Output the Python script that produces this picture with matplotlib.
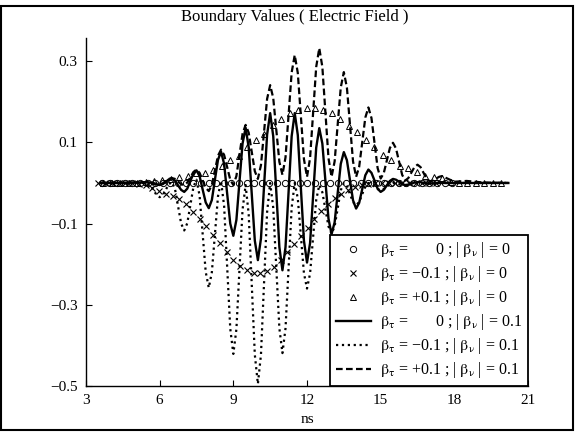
import numpy as np
import matplotlib.pyplot as plt
from matplotlib.patches import Rectangle

plt.rcParams.update({
    'font.family': 'Liberation Serif',
    'font.size': 11,
    'mathtext.fontset': 'stix',
})

# ---- marker series (sampled curves) ----
# beta_tau = 0, |beta_nu| = 0  (circles)
t_circ = 3.65 + 0.31 * np.arange(47)
y_circ = [0.0] * 47

# beta_tau = -0.1, |beta_nu| = 0  (crosses)
t_cross = 3.5 + 0.275 * np.arange(51)
y_cross = [0.0, 0.0, 0.0, 0.0, 0.0, -0.001, -0.003, -0.006, -0.013, -0.020,
           -0.026, -0.031, -0.040, -0.053, -0.072, -0.088, -0.106, -0.127, -0.148, -0.170,
           -0.190, -0.205, -0.215, -0.221, -0.222, -0.217, -0.207, -0.190, -0.169, -0.150,
           -0.130, -0.110, -0.088, -0.068, -0.053, -0.038, -0.028, -0.018, -0.011, -0.005,
           -0.002, 0.0, 0.0, 0.0, 0.0, 0.0, 0.0, 0.0, 0.0, 0.0, 0.0]

# beta_tau = +0.1, |beta_nu| = 0  (triangles)
t_tri = 3.7 + 0.345 * np.arange(48)
y_tri = [0.0, 0.0, 0.0, 0.0, 0.001, 0.002, 0.004, 0.007, 0.010, 0.014,
         0.018, 0.024, 0.025, 0.033, 0.043, 0.056, 0.066, 0.088, 0.106, 0.121,
         0.142, 0.157, 0.172, 0.179, 0.184, 0.184, 0.180, 0.172, 0.157, 0.140,
         0.125, 0.107, 0.088, 0.070, 0.057, 0.043, 0.036, 0.026, 0.018, 0.014,
         0.011, 0.003, 0.001, 0.0, 0.0, 0.0, 0.0, 0.0]

# ---- line series, |beta_nu| = 0.1 ----
t_line = np.concatenate([[3.6, 4.5], np.arange(5.5, 17.5 + 0.06, 0.125), [18.0, 18.5, 19.2, 20.2]])

y_solid = ([0.0, 0.0] +
           [0.002, 0.001, -0.0015, -0.004, -0.005, -0.003, 0.003, 0.009] +
           [0.011, 0.006, -0.006, -0.017, -0.022, -0.014, 0.005, 0.023] +
           [0.031, 0.017, -0.016, -0.048, -0.062, -0.042, 0.008, 0.057] +
           [0.077, 0.047, -0.027, -0.100, -0.130, -0.091, 0.003, 0.097] +
           [0.136, 0.088, -0.027, -0.142, -0.190, -0.137, -0.009, 0.119] +
           [0.172, 0.115, -0.022, -0.158, -0.215, -0.158, -0.022, 0.115] +
           [0.172, 0.118, -0.012, -0.142, -0.196, -0.148, -0.031, 0.087] +
           [0.135, 0.097, 0.005, -0.088, -0.126, -0.097, -0.025, 0.047] +
           [0.076, 0.056, 0.007, -0.043, -0.063, -0.049, -0.015, 0.019] +
           [0.033, 0.025, 0.006, -0.014, -0.022, -0.017, -0.006, 0.005] +
           [0.010, 0.008, 0.003, -0.003, -0.005, -0.004, -0.002, 0.001] +
           [0.002, 0.002, 0.0, -0.001, -0.001, -0.001, 0.0, 0.0] +
           [0.0] + [0.0, 0.0, 0.0, 0.0])

y_dotted = ([0.0, 0.0] +
            [0.0, -0.005, -0.0175, -0.030, -0.035, -0.030, -0.0165, -0.003] +
            [0.002, -0.015, -0.0575, -0.100, -0.117, -0.099, -0.0545, -0.010] +
            [0.008, -0.031, -0.125, -0.219, -0.258, -0.220, -0.1265, -0.033] +
            [0.005, -0.057, -0.208, -0.359, -0.421, -0.360, -0.213, -0.066] +
            [-0.005, -0.077, -0.250, -0.423, -0.495, -0.423, -0.2475, -0.072] +
            [0.0, -0.061, -0.2095, -0.358, -0.419, -0.358, -0.2095, -0.061] +
            [0.0, -0.038, -0.130, -0.222, -0.260, -0.223, -0.1325, -0.042] +
            [-0.005, -0.023, -0.065, -0.107, -0.125, -0.107, -0.0625, -0.018] +
            [0.0, -0.008, -0.0275, -0.047, -0.055, -0.047, -0.0275, -0.008] +
            [0.0, -0.003, -0.009, -0.015, -0.018, -0.015, -0.009, -0.003] +
            [0.0, -0.001, -0.003, -0.005, -0.006, -0.005, -0.003, -0.001] +
            [0.0, 0.0, -0.001, -0.002, -0.002, -0.002, -0.001, 0.0] +
            [0.0] + [0.0, 0.0, 0.0, 0.0])

y_dashed = ([0.0, 0.0] +
            [0.002, 0.001, -0.0005, -0.002, -0.003, -0.001, 0.0045, 0.010] +
            [0.012, 0.010, 0.0035, -0.003, -0.005, 0.001, 0.014, 0.027] +
            [0.033, 0.025, 0.0065, -0.012, -0.020, -0.005, 0.031, 0.067] +
            [0.082, 0.069, 0.0385, 0.008, -0.005, 0.017, 0.069, 0.121] +
            [0.143, 0.124, 0.0765, 0.029, 0.010, 0.044, 0.1255, 0.207] +
            [0.241, 0.209, 0.1305, 0.052, 0.020, 0.063, 0.1675, 0.272] +
            [0.315, 0.271, 0.165, 0.059, 0.015, 0.061, 0.1735, 0.286] +
            [0.332, 0.286, 0.1735, 0.061, 0.015, 0.053, 0.144, 0.235] +
            [0.273, 0.235, 0.144, 0.053, 0.015, 0.040, 0.1005, 0.161] +
            [0.186, 0.160, 0.0985, 0.037, 0.011, 0.024, 0.055, 0.086] +
            [0.099, 0.085, 0.0525, 0.020, 0.006, 0.012, 0.0255, 0.039] +
            [0.045, 0.039, 0.0245, 0.010, 0.004, 0.006, 0.0105, 0.015] +
            [0.017] + [0.003, 0.005, 0.001, 0.0])

b_tau = r'$\mathrm{\beta}_{\mathrm{\tau}}$'
b_nu = r'$\mathrm{\beta}_{\mathrm{\nu}}$'
labels = [b_tau + ' =       0 ; | ' + b_nu + ' | = 0',
          b_tau + ' = \u22120.1 ; | ' + b_nu + ' | = 0',
          b_tau + ' = +0.1 ; | ' + b_nu + ' | = 0',
          b_tau + ' =       0 ; | ' + b_nu + ' | = 0.1',
          b_tau + ' = \u22120.1 ; | ' + b_nu + ' | = 0.1',
          b_tau + ' = +0.1 ; | ' + b_nu + ' | = 0.1']

fig = plt.figure(figsize=(5.75, 4.32), dpi=100)
ax = fig.add_axes([86/575, 1 - 386/432, 442/575, 348/432])

ax.plot(t_circ, y_circ, ls='none', marker='o', mfc='none', mec='k', ms=4.5, mew=0.7, label=labels[0])
ax.plot(t_cross, y_cross, ls='none', marker='x', color='k', ms=4, mew=0.8, label=labels[1])
ax.plot(t_tri, y_tri, ls='none', marker='^', mfc='none', mec='k', ms=4.5, mew=0.7, label=labels[2])
ax.plot(t_line, y_solid, '-', color='k', lw=1.7, label=labels[3])
ax.plot(t_line, y_dotted, ':', color='k', lw=1.6, label=labels[4])
ax.plot(t_line, y_dashed, '--', color='k', lw=1.6, dashes=(3, 1.5), label=labels[5])

ax.set_xlim(3, 21)
ax.set_ylim(-0.5, 0.357)
ax.set_xticks([3, 6, 9, 12, 15, 18, 21])
ax.set_yticks([-0.5, -0.3, -0.1, 0.1, 0.3])
ax.tick_params(direction='in', length=4, width=0.8, labelsize=11, pad=6)
ax.spines['top'].set_visible(False)
ax.spines['right'].set_visible(False)
ax.spines['left'].set_linewidth(1.0)
ax.spines['bottom'].set_linewidth(1.0)
ax.set_xlabel('ns', fontsize=11, labelpad=4)

fig.text(295/575, 1 - 17/432, 'Boundary Values ( Electric Field )', ha='center', va='center', fontsize=12)

leg = ax.legend(loc='lower right', borderaxespad=0, frameon=True, fancybox=False,
                edgecolor='k', framealpha=1, handlelength=2.2, numpoints=1,
                fontsize=11.5, labelspacing=0.25, handletextpad=0.6, borderpad=0.35)
leg.get_frame().set_linewidth(1.3)

fig.patches.append(Rectangle((1/575, 2/432), 572/575, 424/432, transform=fig.transFigure,
                             fill=False, lw=1.5, ec='k'))

fig.savefig('out.png', dpi=100)
